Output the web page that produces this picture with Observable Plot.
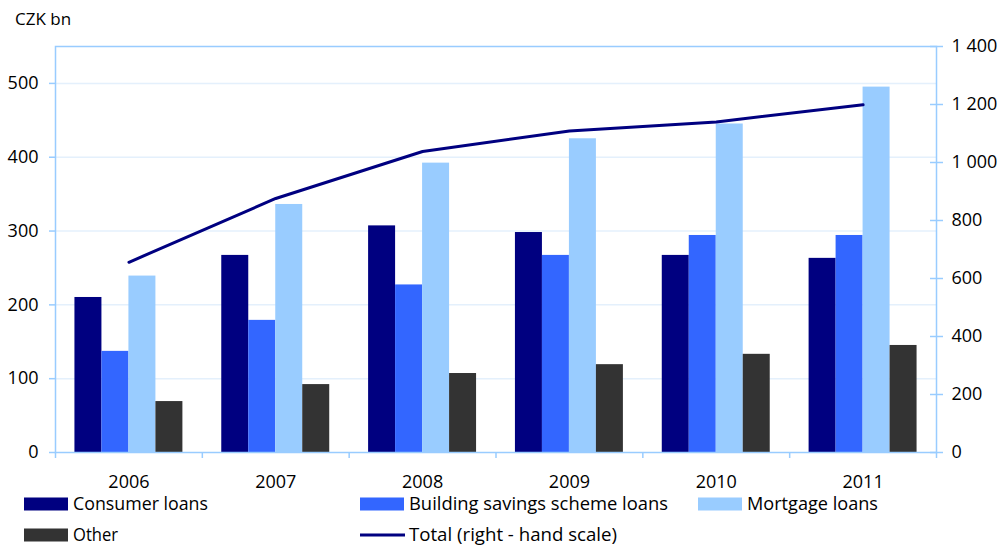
<!DOCTYPE html>
<html><head><meta charset="utf-8">
<script src="https://cdn.jsdelivr.net/npm/d3@7"></script>
<script src="https://cdn.jsdelivr.net/npm/@observablehq/plot@0.6"></script>
<style>
body{margin:0;background:#fff;font-family:"Open Sans",sans-serif;}
#wrap{position:relative;width:1000px;height:545px;overflow:hidden;background:#fff}
#wrap svg{position:absolute;left:0;top:0;overflow:visible}
#unit{position:absolute;left:15px;top:7px;font-size:17px;color:#000;font-family:"Open Sans",sans-serif}
</style></head><body>
<div id="wrap"><div id="unit">CZK bn</div></div>
<script>
// ---- data ----
const years = ["2006","2007","2008","2009","2010","2011"];
const seriesNames = ["Consumer loans","Building savings scheme loans","Mortgage loans","Other"];
const consumer = [210,267,307,298,267,263];
const building = [137,179,227,267,294,294];
const mortgage = [239,336,392,425,445,495];
const other    = [69,92,107,119,133,145];
const total    = [656,876,1038,1109,1140,1199];
const totalName = "Total (right - hand scale)";
const leftTicks  = [0,100,200,300,400,500];
const rightTicks = [0,200,400,600,800,1000,1200,1400];
const leftMax = 550, rightMax = 1400;

// ---- style ----
const colors = ["#000080","#3366ff","#99ccff","#333333"];
const lineColor = "#000080";
const axisColor = "#99ccff";
const gridColor = "#e4f0fc";
const dims = {width:1000, height:492, marginLeft:55, marginRight:64, marginTop:46, marginBottom:40};
const font = {fontFamily:"'Open Sans', sans-serif", fontSize:"18px", color:"#000", background:"transparent", overflow:"visible"};

const valuesBySeries = [consumer, building, mortgage, other];
const barRows = years.flatMap((yr,i) => seriesNames.map((s,j) => ({year:yr, series:s, value:valuesBySeries[j][i]})));
const lineRows = years.map((yr,i) => ({i, year:yr, total: total[i]}));
const toLeft = v => v * leftMax / rightMax;
const fmt = d3.formatLocale({decimal:".", thousands:"\u00a0", grouping:[3], currency:["",""]}).format(",d");

const wrap = document.getElementById("wrap");

// base: grid
const baseLayer = Plot.plot({
  ...dims, style: font,
  x: {domain:[0, years.length], axis:null},
  y: {domain:[0, leftMax], axis:null, label:null},
  marks: [
    Plot.gridY(leftTicks.slice(1), {stroke: gridColor, strokeOpacity: 1, strokeWidth: 1.5})
  ]
});
wrap.appendChild(baseLayer);

// bars (faceted by year)
const barLayer = Plot.plot({
  ...dims, style: font,
  fx: {domain: years, padding: 0, axis: null, round: false},
  x: {domain: seriesNames, paddingInner: 0, paddingOuter: 0.72, axis: null, round: false},
  y: {domain: [0, leftMax], axis: null, label: null},
  color: {domain: seriesNames, range: colors},
  marks: [
    Plot.barY(barRows, {fx: "year", x: "series", y: "value", fill: "series"})
  ]
});
wrap.appendChild(barLayer);

// top: line, frame, axes
const topLayer = Plot.plot({
  ...dims, style: font,
  x: {domain:[0, years.length], axis:null, label:null},
  y: {domain:[0, leftMax], axis:null, label:null},
  marks: [
    Plot.line(lineRows, {x: d => d.i + 0.5, y: d => toLeft(d.total), stroke: lineColor, strokeWidth: 3}),
    Plot.frame({stroke: axisColor, strokeWidth: 1.5}),
    Plot.axisY(leftTicks, {anchor:"left", tickSize:6, tickPadding:11, stroke: axisColor, strokeWidth:1.5, fill:"#000", label:null}),
    Plot.axisY(rightTicks.map(toLeft), {anchor:"right", tickSize:13, dx:-7, tickPadding:9, stroke: axisColor, strokeWidth:1.5, fill:"#000", label:null,
      tickFormat: v => fmt(Math.round(v * rightMax / leftMax))}),
    Plot.axisX(d3.range(years.length + 1), {anchor:"bottom", tickSize:6, stroke: axisColor, strokeWidth:1.5, tickFormat: () => "", label:null}),
    Plot.axisX(years.map((_, i) => i + 0.5), {anchor:"bottom", tickSize:0, tickPadding:23, fill:"#000", label:null,
      tickFormat: v => years[Math.floor(v)]})
  ]
});
wrap.appendChild(topLayer);

// legend
const legendItems = [
  {name: seriesNames[0], kind:"box", color: colors[0], x:24, y:504, w:135},
  {name: seriesNames[1], kind:"box", color: colors[1], x:360, y:504, w:259},
  {name: seriesNames[2], kind:"box", color: colors[2], x:698, y:504, w:131},
  {name: seriesNames[3], kind:"box", color: colors[3], x:24, y:535, w:45},
  {name: totalName, kind:"line", color: lineColor, x:360, y:535, w:208}
];
const leg = d3.create("svg").attr("width",1000).attr("height",545)
  .style("font-family","'Open Sans', sans-serif").style("font-size","17.5px");
for (const it of legendItems) {
  if (it.kind === "box") {
    leg.append("rect").attr("x", it.x).attr("y", it.y - 6.5).attr("width", 44).attr("height", 13).attr("fill", it.color);
  } else {
    leg.append("line").attr("x1", it.x).attr("x2", it.x + 45).attr("y1", it.y).attr("y2", it.y)
      .attr("stroke", it.color).attr("stroke-width", 3);
  }
  leg.append("text").attr("x", it.x + 49).attr("y", it.y).attr("dy", "0.36em")
    .attr("textLength", it.w).attr("lengthAdjust", "spacingAndGlyphs").attr("fill", "#000").text(it.name);
}
wrap.appendChild(leg.node());
</script>
</body></html>
